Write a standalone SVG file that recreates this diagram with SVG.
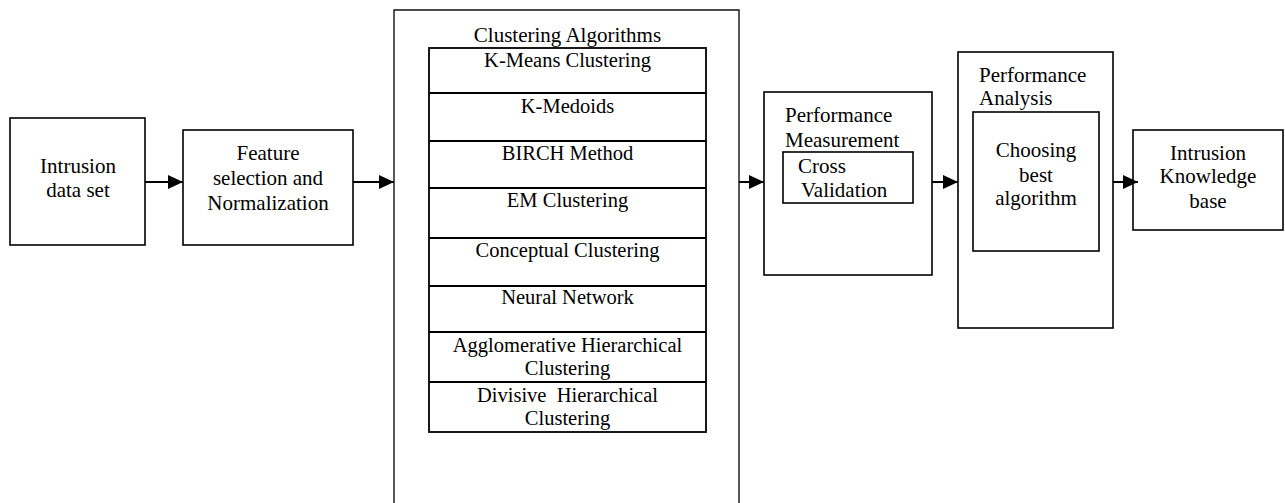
<svg xmlns="http://www.w3.org/2000/svg" width="1285" height="503" viewBox="0 0 1285 503">
<style>
  .box { fill: #fff; stroke: #000; stroke-width: 1.6; }
  .thin { fill: none; stroke: #111; stroke-width: 1.4; }
  .row { fill: none; stroke: #000; stroke-width: 1.8; }
  text { font-family: "Liberation Serif", "Times New Roman", serif; font-size: 21px; fill: #000; }
  .c { text-anchor: middle; }
  .s { font-size: 20.5px; }
  .conn { stroke: #000; stroke-width: 2; fill: none; marker-end: url(#ah); }
</style>
<defs>
  <marker id="ah" viewBox="0 0 15 14" refX="15" refY="7" markerWidth="15" markerHeight="14" markerUnits="userSpaceOnUse" orient="auto">
    <path d="M0,0 L15,7 L0,14 Z" fill="#000"/>
  </marker>
</defs>
<rect width="1285" height="503" fill="#fff"/>

<g id="intrusion-data-set">
  <rect class="box" x="10" y="118" width="135" height="127"/>
  <text class="c" x="78" y="173">Intrusion</text>
  <text class="c" x="78" y="197">data set</text>
</g>

<g id="feature-selection">
  <rect class="box" x="183" y="130" width="170" height="115"/>
  <text class="c" x="268" y="160">Feature</text>
  <text class="c" x="268" y="185">selection and</text>
  <text class="c" x="268" y="210">Normalization</text>
</g>

<g id="clustering-algorithms">
  <path class="thin" d="M394,510 L394,10 L739,10 L739,510"/>
  <text class="c" x="567.5" y="42">Clustering Algorithms</text>
  <rect class="row" x="429" y="48" width="277" height="384"/>
  <path class="row" d="M429,93 H706 M429,141 H706 M429,188 H706 M429,238 H706 M429,286 H706 M429,332 H706 M429,382 H706"/>
  <text class="c s" x="567.5" y="67">K-Means Clustering</text>
  <text class="c s" x="567.5" y="113">K-Medoids</text>
  <text class="c s" x="567.5" y="160">BIRCH Method</text>
  <text class="c s" x="567.5" y="207">EM Clustering</text>
  <text class="c s" x="567.5" y="257">Conceptual Clustering</text>
  <text class="c s" x="567.5" y="304">Neural Network</text>
  <text class="c s" x="567.5" y="352">Agglomerative Hierarchical</text>
  <text class="c s" x="567.5" y="375">Clustering</text>
  <text class="c s" x="567.5" y="402" xml:space="preserve">Divisive  Hierarchical</text>
  <text class="c s" x="567.5" y="425">Clustering</text>
</g>

<g id="performance-measurement">
  <rect class="box" x="764" y="92" width="168" height="183"/>
  <text x="785" y="122">Performance</text>
  <text x="785" y="147">Measurement</text>
  <rect class="box" x="783" y="152" width="130" height="51"/>
  <text x="798" y="173">Cross</text>
  <text x="801" y="197">Validation</text>
</g>

<g id="performance-analysis">
  <rect class="box" x="958" y="52" width="155" height="276"/>
  <text x="979" y="82">Performance</text>
  <text x="979" y="105">Analysis</text>
  <rect class="box" x="973" y="112" width="126" height="139"/>
  <text class="c" x="1036" y="157">Choosing</text>
  <text class="c" x="1036" y="182">best</text>
  <text class="c" x="1036" y="205">algorithm</text>
</g>

<g id="intrusion-knowledge-base">
  <rect class="box" x="1133" y="130" width="150" height="100"/>
  <text class="c" x="1208" y="160">Intrusion</text>
  <text class="c" x="1208" y="183">Knowledge</text>
  <text class="c" x="1208" y="208">base</text>
</g>

<g id="connectors">
  <line class="conn" x1="145" y1="182" x2="183" y2="182"/>
  <line class="conn" x1="353" y1="182" x2="394" y2="182"/>
  <line class="conn" x1="739" y1="182" x2="764" y2="182"/>
  <line class="conn" x1="932" y1="182" x2="958" y2="182"/>
  <line class="conn" x1="1113" y1="182" x2="1138" y2="182"/>
</g>
</svg>
